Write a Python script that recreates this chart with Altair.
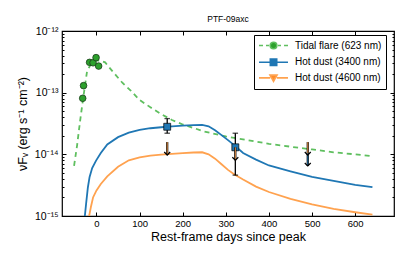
import altair as alt
import pandas as pd

# ---------------- data ----------------
SERIES = ["Tidal flare (623 nm)", "Hot dust (3400 nm)", "Hot dust (4600 nm)"]
LINE_COLORS = ["#5fbf5f", "#1f77b4", "#ffa24f"]
MARKER_COLORS = ["#2ca02c", "#1f77b4", "#ff8c2a"]

tidal_days = [-52, -45, -38, -30, -22, -12, 0, 10, 20, 40, 60, 80, 100, 125, 150, 175,
              200, 250, 300, 350, 400, 450, 500, 550, 600, 640]
tidal_flux = [6.5e-15, 1.4e-14, 3.5e-14, 9e-14, 2.2e-13, 3.0e-13, 3.3e-13, 3.3e-13, 3.1e-13,
              2.1e-13, 1.45e-13, 1.07e-13, 7.6e-14, 5.8e-14, 4.5e-14, 3.6e-14, 3.05e-14,
              2.35e-14, 1.95e-14, 1.7e-14, 1.48e-14, 1.33e-14, 1.2e-14, 1.08e-14, 1.0e-14, 9.3e-15]

blue_days = [-27, -24, -20, -16, -10, -1, 10, 25, 50, 75, 100, 125, 150, 175, 200, 225, 245,
             260, 275, 290, 305, 320, 340, 370, 400, 450, 500, 550, 600, 640]
blue_flux = [1.0e-15, 1.6e-15, 2.9e-15, 4.3e-15, 6.0e-15, 7.9e-15, 1.05e-14, 1.45e-14, 1.9e-14,
             2.25e-14, 2.5e-14, 2.65e-14, 2.75e-14, 2.85e-14, 2.92e-14, 2.97e-14, 3.0e-14,
             2.85e-14, 2.45e-14, 2.05e-14, 1.7e-14, 1.4e-14, 1.05e-14, 8.2e-15, 6.6e-15,
             5.3e-15, 4.3e-15, 3.7e-15, 3.2e-15, 2.95e-15]

orange_days = [-17, -13, -8, 0, 10, 25, 50, 75, 100, 125, 150, 175, 200, 225, 245, 260, 275,
               290, 305, 320, 340, 370, 400, 450, 500, 550, 600, 640]
orange_flux = [1.0e-15, 1.4e-15, 2.0e-15, 2.6e-15, 3.3e-15, 4.4e-15, 6.3e-15, 8.0e-15, 8.9e-15,
               9.5e-15, 9.9e-15, 1.02e-14, 1.05e-14, 1.07e-14, 1.08e-14, 1.0e-14, 8.5e-15,
               6.9e-15, 5.6e-15, 4.7e-15, 3.9e-15, 3.0e-15, 2.45e-15, 1.9e-15, 1.55e-15,
               1.3e-15, 1.15e-15, 1.05e-15]

pt_days = [-32, -30, -16, -8, -1, 5]
pt_flux = [8.1e-14, 1.3e-13, 3.1e-13, 3.05e-13, 3.7e-13, 2.7e-13]

det_days = [164, 322]
det_flux = [2.8e-14, 1.3e-14]
det_hi = [3.8e-14, 2.2e-14]
det_lo = [2.2e-14, 4.6e-15]

ul_days = [164, 322, 490, 490]
ul_flux = [1.58e-14, 1.3e-14, 1.58e-14, 1.05e-14]
ul_series = ["Hot dust (4600 nm)", "Hot dust (4600 nm)", "Hot dust (4600 nm)", "Hot dust (3400 nm)"]

x_ticks = [0, 100, 200, 300, 400, 500, 600]

# ---------------- frames ----------------
tidal_df = pd.DataFrame({"day": tidal_days, "flux": tidal_flux})
blue_df = pd.DataFrame({"day": blue_days, "flux": blue_flux})
orange_df = pd.DataFrame({"day": orange_days, "flux": orange_flux})
pts_df = pd.DataFrame({"day": pt_days, "flux": pt_flux})
det_df = pd.DataFrame({"day": det_days, "flux": det_flux, "hi": det_hi, "lo": det_lo})
ARROW = 10 ** (-0.21)
ul_df = pd.DataFrame({"day": ul_days, "flux": ul_flux, "series": ul_series})
ul_df["end"] = ul_df["flux"] * ARROW
leg_df = pd.DataFrame({"series": SERIES})

y_ticks = [m * 10 ** e for e in range(-15, -12) for m in range(1, 10)] + [1e-12]

is_major = "abs(log(datum.value)/LN10 - round(log(datum.value)/LN10)) < 0.001"
label_expr = (is_major + " ? (round(log(datum.value)/LN10) == -12 ? '10⁻¹²' : "
              "round(log(datum.value)/LN10) == -13 ? '10⁻¹³' : "
              "round(log(datum.value)/LN10) == -14 ? '10⁻¹⁴' : '10⁻¹⁵') : ''")
minor_dash = {"condition": {"test": "!(" + is_major + ")", "value": [0, 2, 2, 2]}, "value": []}

FONT = "Liberation Sans"
xs = alt.Scale(domain=[-80, 690], nice=False, zero=False)
ys = alt.Scale(type="log", domain=[1e-15, 1e-12], nice=False)

x_axis = alt.Axis(values=x_ticks, tickSize=4, offset=-4, domain=False, grid=False,
                  labelPadding=2, labelFontSize=9.5, title="Rest-frame days since peak",
                  titleFontSize=12.5, titleFontWeight="normal", titlePadding=3,
                  tickColor="black", labelColor="black", titleColor="black")
y_axis = alt.Axis(values=y_ticks, labelExpr=label_expr, tickSize=4, offset=-4, domain=False,
                  grid=False, tickDash=minor_dash, labelPadding=4, labelFontSize=10.5,
                  title="νFᵥ (erg s⁻¹ cm⁻²)", titleFontSize=12.5, titleFontWeight="normal",
                  titlePadding=5, tickColor="black", labelColor="black", titleColor="black")
x_top = alt.Axis(orient="top", values=x_ticks, tickSize=4, offset=-4, domain=False, grid=False,
                 labels=False, title=None, tickColor="black")
y_right = alt.Axis(orient="right", values=y_ticks, tickSize=4, offset=-4, domain=False,
                   grid=False, labels=False, title=None, tickDash=minor_dash, tickColor="black")

X = alt.X("day:Q", scale=xs, axis=x_axis)
Y = alt.Y("flux:Q", scale=ys, axis=y_axis)

# ghost layer: tidal dashed curve carrying the mirrored (top/right) axes
ghost = alt.Chart(tidal_df).mark_line(color=LINE_COLORS[0], strokeDash=[5, 4],
                                      strokeWidth=1.8, clip=True).encode(
    x=alt.X("day:Q", scale=alt.Scale(domain=[-80, 690], nice=False, zero=False), axis=x_top),
    y=alt.Y("flux:Q", scale=alt.Scale(type="log", domain=[1e-15, 1e-12], nice=False), axis=y_right),
)

blue_line = alt.Chart(blue_df).mark_line(color=LINE_COLORS[1], strokeWidth=1.8, clip=True).encode(x=X, y=Y)
orange_line = alt.Chart(orange_df).mark_line(color=LINE_COLORS[2], strokeWidth=1.8, clip=True).encode(x=X, y=Y)

err = alt.Chart(det_df).mark_rule(color="black", strokeWidth=1.3).encode(
    x=X, y=alt.Y("lo:Q", scale=ys, axis=y_axis), y2="hi:Q")
cap_hi = alt.Chart(det_df).mark_point(shape="M-1,0H1", size=30, color="black", strokeWidth=1.3).encode(
    x=X, y=alt.Y("hi:Q", scale=ys, axis=y_axis))
cap_lo = alt.Chart(det_df).mark_point(shape="M-1,0H1", size=30, color="black", strokeWidth=1.3).encode(
    x=X, y=alt.Y("lo:Q", scale=ys, axis=y_axis))
squares = alt.Chart(det_df).mark_point(shape="square", filled=True, size=48, fill=MARKER_COLORS[1],
                                       stroke="black", strokeWidth=0.7, opacity=1).encode(x=X, y=Y)

shaft = alt.Chart(ul_df).mark_rule(color="black", strokeWidth=2.2).encode(x=X, y=Y, y2="end:Q")
core_orange = alt.Chart(ul_df).transform_filter(
    alt.datum.series == SERIES[2]).mark_rule(color=LINE_COLORS[2], strokeWidth=0.9).encode(
    x=X, y=Y, y2="end:Q")
core_blue = alt.Chart(ul_df).transform_filter(
    alt.datum.series == SERIES[1]).mark_rule(color=LINE_COLORS[1], strokeWidth=0.9).encode(
    x=X, y=Y, y2="end:Q")
heads = alt.Chart(ul_df).mark_point(shape="M-1,-1L0,0L1,-1", size=36, color="black", filled=False,
                                    strokeWidth=1.2, opacity=1).encode(
    x=X, y=alt.Y("end:Q", scale=ys, axis=y_axis))

dots = alt.Chart(pts_df).mark_point(shape="circle", filled=True, size=44, fill=MARKER_COLORS[0],
                                    stroke="#1a3d1a", strokeWidth=0.8, opacity=1).encode(x=X, y=Y)

# legend glyphs (line + marker), drawn in a unit cell of 11 px and extending to the right
LEG_SHAPES = [
    "M-1,0H-0.27M0.27,0H0.82M2.45,0H3M3.55,0H4.27"
    "M1.04,0A0.6,0.6,0,1,0,2.24,0A0.6,0.6,0,1,0,1.04,0Z",
    "M-1,0H1.06M2.22,0H4.27M1.06,-0.58H2.22V0.58H1.06Z",
    "M-1,0H1.04M2.24,0H4.27M1.0,-0.5H2.28L1.64,0.62Z",
]
leg = alt.Legend(orient="none", legendX=192, legendY=4, title=None, symbolSize=121,
                 symbolStrokeWidth=1.6, labelFontSize=10, labelFont=FONT, padding=4,
                 strokeColor="black", fillColor="white", rowPadding=2.7, labelOffset=24,
                 cornerRadius=0, labelColor="black")
legend_layer = alt.Chart(leg_df).mark_point(filled=True, clip=True, opacity=1).encode(
    x=alt.value(-200), y=alt.value(-200),
    fill=alt.Fill("series:N", scale=alt.Scale(domain=SERIES, range=MARKER_COLORS), legend=leg),
    stroke=alt.Stroke("series:N", scale=alt.Scale(domain=SERIES, range=LINE_COLORS), legend=leg),
    shape=alt.Shape("series:N", scale=alt.Scale(domain=SERIES, range=LEG_SHAPES), legend=leg),
)

inner = alt.layer(blue_line, orange_line, err, cap_hi, cap_lo, squares, shaft, core_orange,
                  core_blue, heads, dots, legend_layer)

chart = alt.layer(ghost, inner).resolve_scale(x="independent", y="independent").properties(
    width=332, height=185,
    title=alt.TitleParams("PTF-09axc", fontSize=8.5, fontWeight="normal", offset=3, font=FONT,
                          color="black"),
    autosize=alt.AutoSizeParams(type="none"),
    padding={"left": 54, "top": 23, "right": 13, "bottom": 30},
).configure(font=FONT).configure_view(stroke="black", strokeWidth=1.2).configure_axis(
    labelFont=FONT, titleFont=FONT)

chart.save("out.html", embed_options={"renderer": "svg", "actions": False})
